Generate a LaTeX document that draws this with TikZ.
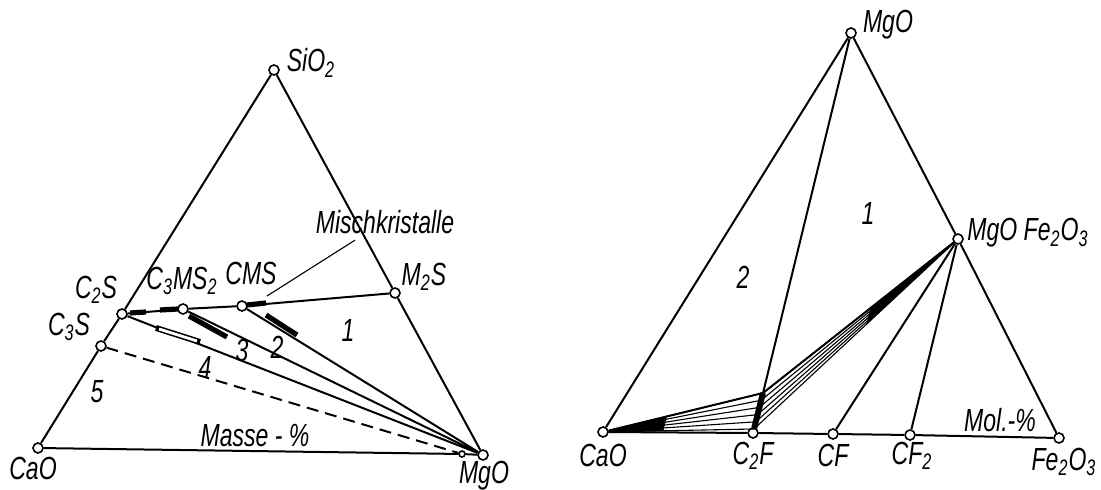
\documentclass[tikz,border=0pt]{standalone}
\usepackage{fontspec}
\usepackage{tikz}
\usetikzlibrary{calc}
\newfontfamily\labfont[FakeStretch=0.72]{Liberation Sans}

\begin{document}
\begin{tikzpicture}[
  x=0.5pt, y=-0.5pt,
  font=\labfont\itshape\fontsize{16}{18}\selectfont,
  edge/.style={line width=1pt},
  tie/.style={line width=0.55pt},
  pt/.style={circle, draw, line width=0.8pt, fill=white,
             inner sep=0pt, minimum size=5pt},
  lbl/.style={inner sep=1pt},
  bar/.style={line width=2.6pt}
]
\useasboundingbox (0,0) rectangle (1101,490);

% =========================================================
% LEFT: CaO -- SiO2 -- MgO (Masse-%)
% =========================================================
\node[pt] (sio)   at (274,70)  {};
\node[pt] (cao)   at (38,448)  {};
\node[pt] (mgo)   at (483,455) {};
\node[pt] (c3s)   at (101,346) {};
\node[pt] (c2s)   at (122,314) {};
\node[pt] (c3ms2) at (183,309) {};
\node[pt] (cms)   at (242,306) {};
\node[pt] (m2s)   at (395,293) {};
\node[pt, minimum size=3pt] (mss) at (462,454) {};

% triangle edges
\draw[edge] (cao) -- (c3s) -- (c2s) -- (sio) -- (m2s) -- (mgo) -- (mss) -- (cao);

% tie lines
\draw[edge] (c2s) -- (c3ms2) -- (cms) -- (m2s);
\draw[edge] (c2s)   -- (mgo);
\draw[edge] (c3ms2) -- (mgo);
\draw[edge] (cms)   -- (mgo);
\draw[edge, dash pattern=on 6pt off 3.5pt] (c3s) -- (mss);

% solid solution bars
\draw[bar] (130,313) -- (146,312);
\draw[bar] (160,310) -- (178,309);
\draw[bar] (247,305) -- (266,303);
\draw[bar] (189,316) -- (227,337);
\draw[bar] (266,315) -- (297,335);
\draw[line width=3pt] (156,328) -- (200,342);
\draw[line width=1.4pt, white] (159,329) -- (197,341);

% labels
\node[lbl] (lsio)   at (311,63)  {SiO\textsubscript{2}};
\node[lbl] (lm2s)   at (424,277) {M\textsubscript{2}S};
\node[lbl] (lcms)   at (251,273) {CMS};
\node[lbl] (lc3ms2) at (182,281) {C\textsubscript{3}MS\textsubscript{2}};
\node[lbl] (lc2s)   at (96,290)  {C\textsubscript{2}S};
\node[lbl] (lc3s)   at (69,327)  {C\textsubscript{3}S};
\node[lbl] (lcao)   at (33,468)  {CaO};
\node[lbl] (lmgo)   at (484,476) {MgO};
\node[lbl] (misch)  at (385,222) {Mischkristalle};
\coordinate (mk) at (267,296);
\draw[tie] ($(misch.south)+(-30,4)$) -- (mk);

\node[lbl] (n1) at (348,330) {1};
\node[lbl] (n2) at (277,347) {2};
\node[lbl] (n3) at (242,350) {3};
\node[lbl] (n4) at (205,367) {4};
\node[lbl] (n5) at (97,392)  {5};
\node[lbl] (masse) at (255,436) {Masse - \%};

% =========================================================
% RIGHT: CaO -- MgO -- Fe2O3 (Mol.-%)
% =========================================================
\node[pt] (mgor) at (851,33)   {};
\node[pt] (caor) at (603,432)  {};
\node[pt] (c2f)  at (753,433)  {};
\node[pt] (cf)   at (833,434)  {};
\node[pt] (cf2)  at (910,435)  {};
\node[pt] (fe)   at (1059,438) {};
\node[pt] (mf)   at (958,239)  {};
\coordinate (ss) at (763,393);

% triangle edges
\draw[edge] (caor) -- (c2f) -- (cf) -- (cf2) -- (fe) -- (mf) -- (mgor) -- (caor);
\draw[edge] (mgor) -- (ss);
\draw[edge] (mf) -- (cf);
\draw[edge] (mf) -- (cf2);

% C2F solid solution and its tie-line fans
\draw[line width=3pt] ($(c2f)!0.12!(ss)$) -- (ss);
\foreach \t in {0.1,0.28,0.46,0.64,0.82,1}{
  \coordinate (f) at ($(c2f)!\t!(ss)$);
  \draw[tie] (caor) -- (f) -- (mf);
}
\draw[edge] (caor) -- (ss) -- (mf);
\fill (caor.east) -- ($(caor)!0.4!(ss)$) -- ($(caor)!0.4!($(c2f)!0.1!(ss)$)$) -- cycle;
\fill (mf.south west) -- ($(mf)!0.45!(ss)$) -- ($(mf)!0.45!($(c2f)!0.1!(ss)$)$) -- cycle;

% labels
\node[lbl] (lmgor) at (888,25)  {MgO};
\node[lbl, anchor=west] (lmf) at (965,233) {MgO Fe\textsubscript{2}O\textsubscript{3}};
\node[lbl] (lcaor) at (603,455) {CaO};
\node[lbl] (lc2f)  at (753,456) {C\textsubscript{2}F};
\node[lbl] (lcf)   at (833,455) {CF};
\node[lbl] (lcf2)  at (912,456) {CF\textsubscript{2}};
\node[lbl] (lfe)   at (1064,462) {Fe\textsubscript{2}O\textsubscript{3}};
\node[lbl] (mol)   at (1000,420) {Mol.-\%};
\node[lbl] (r1) at (868,213) {1};
\node[lbl] (r2) at (743,277) {2};

\end{tikzpicture}
\end{document}
